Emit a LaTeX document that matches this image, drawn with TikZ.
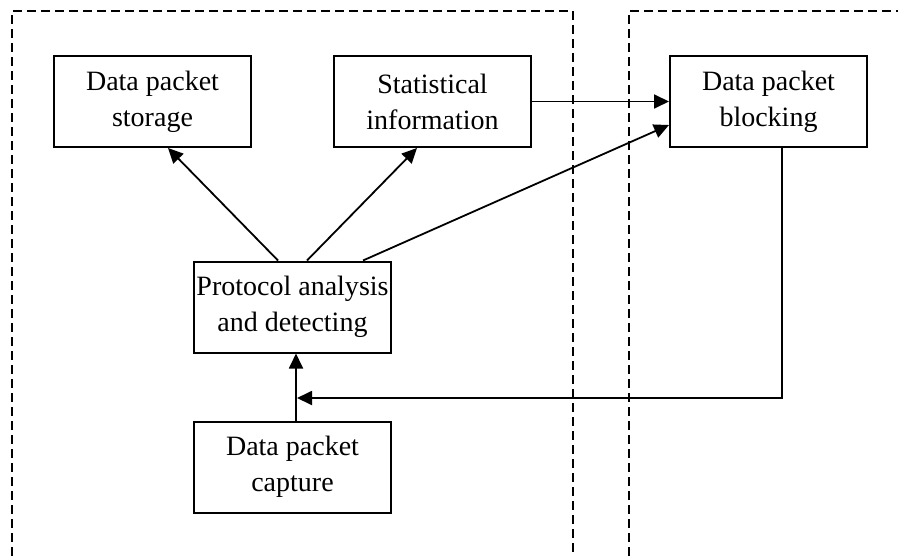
\documentclass[tikz,border=0pt]{standalone}
\usepackage{fontspec}
\setmainfont{Liberation Serif}
\usetikzlibrary{arrows.meta,positioning,calc}
\tikzset{
  blk/.style={draw=black, fill=white, line width=1pt, minimum width=98.5pt,
    minimum height=45.5pt, inner sep=1pt, align=center,
    font=\fontsize{14}{18}\selectfont},
  flow/.style={-{Triangle[length=7.5pt,width=7pt]}, line width=0.9pt},
  zone/.style={line width=0.9pt, dash pattern=on 4.5pt off 2.5pt},
}
\begin{document}
\begin{tikzpicture}[x=0.5pt,y=-0.5pt]
  \useasboundingbox[fill=white] (0,0) rectangle (898,556);
  % the two dashed zones
  \draw[zone] (12,556) -- (12,11) -- (573,11) -- (573,556);
  \draw[zone] (629,556) -- (629,11) -- (898,11);
  % boxes
  \node[blk] (storage) at (152.5,101.5) {Data packet\\storage};
  \node[blk] (stat) at (432.5,101.5) {Statistical\\information};
  \node[blk] (block) at (768.5,101.5) {Data packet\\blocking};
  \node[blk] (proto) at (292.5,307) {Protocol analysis\\and detecting};
  \node[blk] (capture) at (292.5,467) {Data packet\\capture};
  % connectors
  \draw[flow] ([xshift=-7.25pt]proto.north) -- ([xshift=7.75pt]storage.south);
  \draw[flow] ([xshift=7.25pt]proto.north) -- ([xshift=-7.75pt]stat.south);
  \draw[flow] ([xshift=35.25pt]proto.north) -- ([yshift=-11.75pt]block.west);
  \draw[flow] (stat.east) -- (block.west);
  \draw[flow] ([xshift=1.75pt]capture.north) -- ([xshift=1.75pt]proto.south);
  \coordinate (fb) at (297,398);
  \draw[flow] ([xshift=6.75pt]block.south) |- (fb);
\end{tikzpicture}
\end{document}
